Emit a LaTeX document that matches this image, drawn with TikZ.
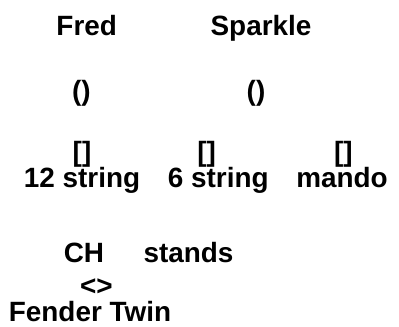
\documentclass[tikz,border=0pt]{standalone}
\usepackage{fontspec}
\setmainfont{Liberation Sans}
\begin{document}
\begin{tikzpicture}[x=1bp,y=1bp,
  lbl/.style={anchor=base,inner sep=0pt,font=\fontsize{28}{30}\selectfont\bfseries}]
\useasboundingbox (0,0) rectangle (399,327);
\node[lbl] (fred) at (86.7,292) {Fred};
\node[lbl] (sparkle) at (261,292) {Sparkle};
\node[lbl] (p1) at (81.3,227) {()};
\node[lbl] (p2) at (256,227) {()};
\node[lbl] (b1) at (82,166) {[]};
\node[lbl] (b2) at (206.7,166) {[]};
\node[lbl] (b3) at (343.3,166) {[]};
\node[lbl] (s12) at (82,140) {12 string};
\node[lbl] (s6) at (218.3,140) {6 string};
\node[lbl] (mando) at (342,140) {mando};
\node[lbl] (ch) at (84,65) {CH};
\node[lbl] (stands) at (188.5,65) {stands};
\node[lbl] (amp) at (96.4,32) {<>};
\node[lbl] (fender) at (90,6) {Fender Twin};
\end{tikzpicture}
\end{document}
